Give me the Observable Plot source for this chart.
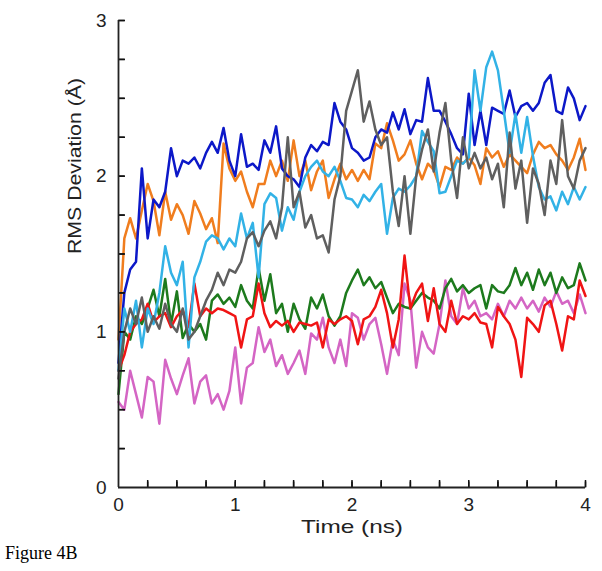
<!DOCTYPE html>
<html>
<head>
<meta charset="utf-8">
<script src="https://cdn.jsdelivr.net/npm/d3@7"></script>
<script src="https://cdn.jsdelivr.net/npm/@observablehq/plot@0.6"></script>
<style>
  html, body { margin: 0; padding: 0; background: #fff; }
  #wrap { position: relative; width: 602px; height: 571px; }
  #caption { position: absolute; left: 5px; top: 543px; font-family: "Liberation Serif", "Times New Roman", serif; font-size: 18px; color: #000; }
</style>
</head>
<body>
<div id="wrap"><div id="chart"></div><div id="caption">Figure 4B</div></div>
<script>
const timeStep = 0.05;

const blue = [0.8,1.25,1.4,1.45,2.05,1.6,1.85,1.8,1.9,2.18,2.0,2.1,2.08,2.12,2.05,2.15,2.22,2.15,2.31,2.1,
  2.0,2.27,2.06,2.08,2.04,2.23,2.15,2.32,2.05,2.0,1.98,1.93,2.12,2.2,2.16,2.22,2.2,2.47,2.35,2.3,
  2.18,2.15,2.1,2.12,2.25,2.3,2.28,2.41,2.3,2.43,2.27,2.36,2.35,2.63,2.42,2.42,2.35,2.27,2.18,2.14,
  2.53,2.2,2.42,2.2,2.44,2.42,2.4,2.55,2.38,2.45,2.47,2.42,2.47,2.6,2.65,2.42,2.4,2.57,2.5,2.36,2.45];

const orange = [0.95,1.6,1.73,1.6,1.78,1.95,1.84,1.62,1.9,1.72,1.82,1.75,1.63,1.84,1.76,1.66,1.73,1.57,2.21,2.05,
  1.97,2.03,1.9,1.8,1.95,1.95,2.1,2.0,2.1,1.97,2.23,2.0,2.1,1.91,2.03,2.1,1.86,1.98,2.08,1.98,
  2.04,1.97,2.04,1.98,2.21,2.18,2.34,2.23,2.1,2.14,2.23,2.08,1.98,2.08,2.04,1.93,2.06,2.04,2.12,2.08,
  2.12,2.07,1.95,2.18,2.12,2.16,2.06,2.14,2.1,2.06,2.02,2.14,2.22,2.18,2.2,2.14,2.1,2.04,2.12,2.24,2.04];

const lightBlue = [0.75,1.15,1.0,1.2,0.9,1.15,1.05,1.25,1.55,1.38,1.3,1.45,0.9,1.35,1.45,1.58,1.62,1.6,1.53,1.6,
  1.55,1.76,1.6,1.7,1.35,1.82,1.89,1.86,1.65,1.8,1.72,1.9,2.0,2.06,2.1,2.03,2.0,2.06,1.97,1.86,
  1.85,1.8,1.88,1.84,1.9,1.95,1.63,1.86,1.92,1.9,1.94,2.0,2.29,2.22,2.16,1.89,1.9,2.0,2.1,2.08,
  2.12,2.68,2.42,2.7,2.8,2.68,2.42,2.15,2.4,2.15,2.38,2.13,1.93,1.85,1.87,1.78,1.9,1.82,1.93,1.85,1.93];

const gray = [0.7,1.0,1.15,1.05,1.22,1.0,1.1,1.02,1.18,1.05,1.0,1.15,0.95,1.0,1.1,1.2,1.27,1.38,1.3,1.4,
  1.38,1.45,1.6,1.64,1.55,1.65,1.71,1.6,1.8,2.25,1.8,1.9,1.67,1.75,1.6,1.62,1.51,1.85,2.0,2.42,
  2.55,2.68,2.35,2.48,2.3,2.2,2.25,1.9,1.68,2.0,1.63,2.0,2.17,2.3,2.03,2.28,2.47,2.1,1.86,2.25,
  2.05,2.15,2.05,2.12,1.98,2.08,1.8,2.28,1.92,2.1,1.7,2.05,1.95,1.75,2.1,1.95,2.36,2.0,1.92,2.1,2.18];

const green = [0.6,1.0,0.95,1.1,1.05,1.15,1.27,1.1,1.34,1.05,1.26,0.96,1.05,1.0,1.05,0.95,1.2,1.24,1.18,1.22,
  1.16,1.3,1.2,1.15,1.41,1.2,1.37,1.12,1.18,1.0,1.18,1.08,1.02,1.22,1.15,1.24,1.1,1.04,1.1,1.25,
  1.33,1.4,1.3,1.35,1.28,1.32,1.22,1.12,1.18,1.16,1.15,1.2,1.25,1.22,1.2,1.15,1.28,1.34,1.26,1.3,
  1.25,1.28,1.3,1.15,1.3,1.26,1.25,1.3,1.41,1.3,1.38,1.27,1.4,1.3,1.38,1.25,1.35,1.28,1.3,1.44,1.33];

const red = [0.75,0.85,1.0,1.05,1.08,1.18,1.06,1.1,1.12,1.03,1.1,1.14,1.03,1.31,1.1,1.15,1.12,1.15,1.14,1.12,
  1.1,0.9,1.08,1.1,1.31,1.12,1.03,1.07,1.04,1.07,1.0,1.06,1.05,1.04,1.06,0.9,1.08,1.05,1.08,1.1,
  1.07,0.92,1.08,1.1,1.16,1.27,1.12,0.9,1.08,1.49,1.15,1.25,1.31,1.07,1.28,1.05,1.0,1.2,1.05,1.1,
  1.08,1.12,1.06,1.05,0.9,1.16,1.1,1.05,0.95,0.71,1.09,1.05,1.0,1.17,1.2,1.05,0.88,1.1,1.08,1.33,1.23];

const magenta = [0.55,0.5,0.75,0.6,0.45,0.71,0.68,0.41,0.82,0.7,0.6,0.72,0.83,0.54,0.68,0.72,0.54,0.6,0.5,0.62,
  0.9,0.54,0.77,0.8,1.03,0.87,0.95,0.78,0.85,0.73,0.8,0.88,0.73,0.99,0.95,1.09,0.9,0.8,0.95,0.78,
  1.12,1.09,0.95,1.05,1.09,0.92,0.73,0.95,0.85,1.31,1.2,0.77,1.0,0.9,0.86,1.05,1.33,1.1,1.05,1.28,
  1.15,1.2,1.1,1.12,1.08,1.18,1.1,1.2,1.15,1.22,1.15,1.2,1.13,1.22,1.16,1.26,1.18,1.2,1.12,1.24,1.12];

const xTickLabels = [0, 1, 2, 3, 4];
const yTickLabels = [0, 1, 2, 3];
const minorXTicks = [0.25,0.5,0.75,1,1.25,1.5,1.75,2,2.25,2.5,2.75,3,3.25,3.5,3.75,4];
const minorYTicks = [0.25,0.5,0.75,1,1.25,1.5,1.75,2,2.25,2.5,2.75,3];

const series = [
  {name: "magenta", values: magenta, color: "#d465c4"},
  {name: "green", values: green, color: "#1d7a1d"},
  {name: "red", values: red, color: "#f01414"},
  {name: "orange", values: orange, color: "#f07d1e"},
  {name: "blue", values: blue, color: "#0c18c8"},
  {name: "lightBlue", values: lightBlue, color: "#32b2e6"},
  {name: "gray", values: gray, color: "#5f5f5f"}
];

const rows = series.flatMap(s => s.values.map((v, i) => ({series: s.name, t: +(i * timeStep).toFixed(2), v})));
const tickRowsX = minorXTicks.map(x => ({x, a: 0, b: 0.045}));
const tickRowsY = minorYTicks.map(y => ({y, a: 0, b: 0.06}));

// short tick glyphs drawn as dot symbols (up from the x axis, right from the y axis)
const tickUp = {draw(context) { context.moveTo(0, 0); context.lineTo(0, -6); }};
const tickRight = {draw(context) { context.moveTo(0, 0); context.lineTo(6, 0); }};

const font = "'Liberation Sans', Arial, Helvetica, sans-serif";

const chart = Plot.plot({
  width: 602,
  height: 540,
  marginLeft: 118,
  marginRight: 17,
  marginTop: 20,
  marginBottom: 53,
  style: {fontFamily: font, background: "#fff", color: "#222"},
  x: {domain: [0, 4], axis: null},
  y: {domain: [0, 3], axis: null},
  marks: [
    ...series.map(s => Plot.line(rows.filter(r => r.series === s.name), {x: "t", y: "v", stroke: s.color, strokeWidth: 2.5, strokeLinejoin: "round"})),
    Plot.ruleX(tickRowsX, {x: "x", y1: "a", y2: "b", stroke: "#111", strokeWidth: 1.5}),
    Plot.ruleY(tickRowsY, {y: "y", x1: "a", x2: "b", stroke: "#111", strokeWidth: 1.5}),
    Plot.dot(tickRowsX, {x: "x", y: "a", symbol: tickUp, fill: "none", stroke: "#111", strokeWidth: 1.5}),
    Plot.dot(tickRowsY, {x: "a", y: "y", symbol: tickRight, fill: "none", stroke: "#111", strokeWidth: 1.5}),
    Plot.ruleX([0], {stroke: "#222", strokeWidth: 1.8}),
    Plot.ruleY([0], {stroke: "#222", strokeWidth: 1.8}),
    Plot.text(xTickLabels, {x: d => d, frameAnchor: "bottom", lineAnchor: "middle", dy: 17, fontSize: 19, fill: "#222", text: d => String(d)}),
    Plot.text(yTickLabels, {y: d => d, frameAnchor: "left", textAnchor: "end", lineAnchor: "middle", dx: -12, fontSize: 19, fill: "#222", text: d => String(d)}),
    Plot.text(["Time (ns)"], {frameAnchor: "bottom", lineAnchor: "middle", dy: 39, fontSize: 19, fill: "#222"}),
    Plot.text(["RMS Deviation (Å)"], {frameAnchor: "left", lineAnchor: "middle", dx: -43, rotate: -90, fontSize: 18, fill: "#222"})
  ]
});
// stretch the two axis titles horizontally like the reference lettering
chart.querySelectorAll("text").forEach(t => {
  const s = t.textContent;
  if (s === "Time (ns)") { t.setAttribute("textLength", "102"); t.setAttribute("lengthAdjust", "spacingAndGlyphs"); }
  if (s === "RMS Deviation (Å)") { t.setAttribute("textLength", "176"); t.setAttribute("lengthAdjust", "spacingAndGlyphs"); }
});
document.getElementById("chart").appendChild(chart);
</script>
</body>
</html>
